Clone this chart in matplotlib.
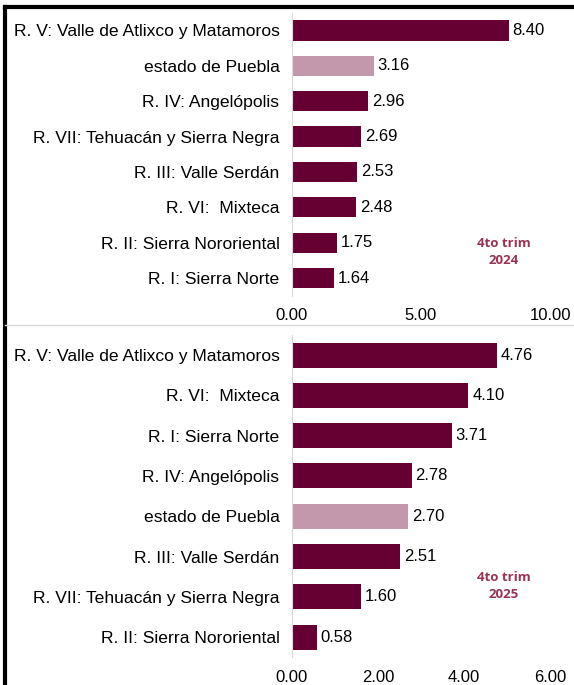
import matplotlib.pyplot as plt
from matplotlib.lines import Line2D

# 4to trim 2024
regiones_2024 = ['R. V: Valle de Atlixco y Matamoros', 'estado de Puebla',
                 'R. IV: Angelópolis', 'R. VII: Tehuacán y Sierra Negra',
                 'R. III: Valle Serdán', 'R. VI:  Mixteca',
                 'R. II: Sierra Nororiental', 'R. I: Sierra Norte']
valores_2024 = [8.40, 3.16, 2.96, 2.69, 2.53, 2.48, 1.75, 1.64]

# 4to trim 2025
regiones_2025 = ['R. V: Valle de Atlixco y Matamoros', 'R. VI:  Mixteca',
                 'R. I: Sierra Norte', 'R. IV: Angelópolis', 'estado de Puebla',
                 'R. III: Valle Serdán', 'R. VII: Tehuacán y Sierra Negra',
                 'R. II: Sierra Nororiental']
valores_2025 = [4.76, 4.10, 3.71, 2.78, 2.70, 2.51, 1.60, 0.58]

DARK = '#660033'
LIGHT = '#C498AC'
NOTE = '#993352'

plt.rcParams['font.family'] = ['Liberation Sans', 'DejaVu Sans']

fig = plt.figure(figsize=(5.74, 6.85), dpi=100)


def panel(rect, labels, values, xmax, xticks, bar_h, note, note_y):
    ax = fig.add_axes(rect)
    colors = [LIGHT if l == 'estado de Puebla' else DARK for l in labels]
    y = range(len(labels))
    ax.barh(y, values, height=bar_h, color=colors)
    for yi, v in zip(y, values):
        ax.text(v + xmax * 0.015, yi, f'{v:.2f}', va='center', ha='left', fontsize=12)
    ax.set_yticks(list(y))
    ax.set_yticklabels(labels, fontsize=12.6)
    ax.set_ylim(len(labels) - 0.5, -0.5)
    ax.set_xlim(0, xmax)
    ax.set_xticks(xticks)
    ax.set_xticklabels([f'{t:.2f}' for t in xticks], fontsize=12)
    ax.tick_params(axis='x', length=0, pad=9)
    ax.tick_params(axis='y', length=0, pad=9)
    for s in ['top', 'right', 'bottom']:
        ax.spines[s].set_visible(False)
    ax.spines['left'].set_color('#D9D9D9')
    ax.text(0.82, note_y, note, transform=ax.transAxes, ha='center', va='center',
            fontsize=9.5, fontweight='bold', color=NOTE,
            family=['Open Sans', 'DejaVu Sans'], linespacing=1.4)
    return ax


panel([0.5087, 0.5683, 0.4495, 0.4131], regiones_2024, valores_2024, 10,
      [0, 5, 10], 0.57, '4to trim\n2024', 0.155)
panel([0.5087, 0.0404, 0.4495, 0.4707], regiones_2025, valores_2025, 6,
      [0, 2, 4, 6], 0.62, '4to trim\n2025', 0.22)

# frame lines
fig.add_artist(Line2D([5 / 574, 1], [1 - 7 / 685] * 2, color='black', lw=3))
fig.add_artist(Line2D([5 / 574] * 2, [0, 1 - 7 / 685], color='black', lw=3))
fig.add_artist(Line2D([5 / 574, 1], [1 - 325 / 685] * 2, color='#D9D9D9', lw=1))

fig.savefig('out.png', dpi=100)
